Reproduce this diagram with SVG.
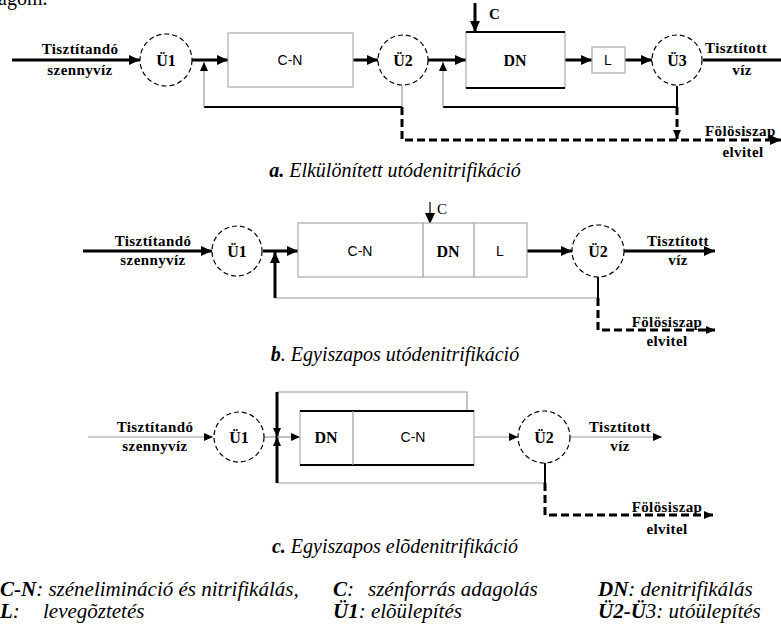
<svg xmlns="http://www.w3.org/2000/svg" width="781" height="632" viewBox="0 0 781 632">
<style>
.bg{fill:#fff}
.thick{stroke:#000;stroke-width:3;fill:none}
.med{stroke:#000;stroke-width:2;fill:none}
.thin{stroke:#999;stroke-width:1.2;fill:none}
.dash{stroke:#000;stroke-width:3;fill:none;stroke-dasharray:8 4}
.circ{stroke:#000;stroke-width:1.2;fill:#fff;stroke-dasharray:5 3}
.box{stroke:#aaa;stroke-width:1.2;fill:#fff}
.lbl{font-family:"Liberation Serif",serif;font-weight:bold;font-size:15px;letter-spacing:0.4px;fill:#000;text-anchor:middle}
.lbs{font-family:"Liberation Serif",serif;font-weight:bold;font-size:15px;letter-spacing:0.4px;fill:#000;text-anchor:start}
.nl{font-family:"Liberation Sans",sans-serif;font-size:14px;fill:#000;text-anchor:middle}
.nlb{font-family:"Liberation Serif",serif;font-weight:bold;font-size:16px;fill:#000;text-anchor:middle}
.cap{font-family:"Liberation Serif",serif;font-style:italic;font-size:20px;fill:#000;text-anchor:middle}
.leg{font-family:"Liberation Serif",serif;font-style:italic;font-size:21px;fill:#000}
.b{font-weight:bold}
</style>
<defs>
<marker id="ah" markerUnits="userSpaceOnUse" markerWidth="11" markerHeight="10" refX="11" refY="5" orient="auto"><path d="M0,0 L11,5 L0,10 z" fill="#000"/></marker>
<marker id="as" markerUnits="userSpaceOnUse" markerWidth="9" markerHeight="8" refX="9" refY="4" orient="auto"><path d="M0,0 L9,4 L0,8 z" fill="#000"/></marker>
</defs>
<rect class="bg" x="0" y="0" width="781" height="632"/>
<text x="-2" y="5" font-family="Liberation Serif,serif" font-size="20">agom.</text>

<g id="connectors">
<!-- a -->
<line class="thick" x1="12" y1="60" x2="140" y2="60" marker-end="url(#ah)"/>
<line class="thick" x1="192" y1="60" x2="228" y2="60" marker-end="url(#ah)"/>
<line class="thin" x1="402" y1="86" x2="402" y2="107"/>
<line class="med" x1="402" y1="107" x2="204" y2="107"/>
<line class="thin" x1="204" y1="107" x2="204" y2="62" marker-end="url(#as)"/>
<line class="thick" x1="353" y1="60" x2="378" y2="60" marker-end="url(#ah)"/>
<line class="thick" x1="428" y1="60" x2="466" y2="60" marker-end="url(#ah)"/>
<line class="thick" x1="475" y1="3" x2="475" y2="32" marker-end="url(#ah)"/>
<line class="thick" x1="553" y1="60" x2="592" y2="60" marker-end="url(#ah)"/>
<line class="thick" x1="625" y1="60" x2="652" y2="60" marker-end="url(#ah)"/>
<line class="thick" x1="703" y1="60" x2="781" y2="60"/>
<line class="med" x1="677" y1="86" x2="677" y2="107"/>
<line class="med" x1="677" y1="107" x2="443" y2="107"/>
<line class="thin" x1="443" y1="107" x2="443" y2="62" marker-end="url(#as)"/>
<polyline class="dash" points="402,107 402,140 781,140" marker-end="url(#ah)"/>
<line class="dash" x1="677" y1="107" x2="677" y2="139" marker-end="url(#as)"/>
<!-- b -->
<line class="thick" x1="83" y1="251" x2="212" y2="251" marker-end="url(#ah)"/>
<line class="thick" x1="263" y1="251" x2="298" y2="251" marker-end="url(#ah)"/>
<line class="thin" x1="598" y1="298" x2="275" y2="298"/>
<line class="thick" x1="275" y1="298" x2="275" y2="252" marker-end="url(#ah)"/>
<line x1="430" y1="202" x2="430" y2="224" stroke="#000" stroke-width="1.2" marker-end="url(#ah)"/>
<line class="thick" x1="527" y1="251" x2="572" y2="251" marker-end="url(#ah)"/>
<line class="thick" x1="624" y1="251" x2="715" y2="251" marker-end="url(#ah)"/>
<line class="med" x1="598" y1="277" x2="598" y2="298"/>
<polyline class="dash" points="598,298 598,330 715,330" marker-end="url(#as)"/>
<!-- c -->
<line class="thin" x1="88" y1="437" x2="213" y2="437" marker-end="url(#as)"/>
<line class="thin" x1="264" y1="437" x2="277" y2="437"/>
<polyline class="thin" points="277,392 467,392 467,411"/>
<line class="thin" x1="277" y1="483" x2="545" y2="483"/>
<line class="thick" x1="277" y1="392" x2="277" y2="437" marker-end="url(#as)"/>
<line class="thick" x1="277" y1="483" x2="277" y2="437" marker-end="url(#as)"/>
<line class="thin" x1="277" y1="437" x2="300" y2="437" marker-end="url(#as)"/>
<line class="thin" x1="474" y1="437" x2="518" y2="437" marker-end="url(#as)"/>
<line class="thin" x1="570" y1="437" x2="662" y2="437" marker-end="url(#as)"/>
<line class="med" x1="545" y1="463" x2="545" y2="483"/>
<polyline class="dash" points="545,483 545,515 713,515" marker-end="url(#as)"/>
</g>

<!-- section a nodes -->
<g id="a-U1"><circle class="circ" cx="166" cy="60" r="26"/><text class="nlb" x="166" y="66">Ü1</text></g>
<g id="a-CN"><rect class="box" x="228" y="33" width="125" height="54"/><text class="nl" x="290" y="65">C-N</text></g>
<g id="a-U2"><circle class="circ" cx="403" cy="60" r="25"/><text class="nlb" x="403" y="66">Ü2</text></g>
<g id="a-DN"><rect class="box" x="466" y="32" width="99" height="56"/><line class="med" x1="466" y1="32" x2="565" y2="32" stroke-width="2.5"/><line class="med" x1="466" y1="88" x2="565" y2="88" stroke-width="2.5"/><text class="nlb" x="515" y="66">DN</text></g>
<g id="a-L"><rect class="box" x="592" y="47" width="33" height="26"/><text class="nl" x="608" y="65">L</text></g>
<g id="a-U3"><circle class="circ" cx="677" cy="60" r="25"/><text class="nlb" x="677" y="66">Ü3</text></g>
<g id="a-texts">
<text class="lbl" x="80" y="54">Tisztítandó</text>
<text class="lbl" x="80" y="75">szennyvíz</text>
<text class="lbs" x="489" y="19">C</text>
<text class="lbs" x="705" y="53">Tisztított</text>
<text class="lbl" x="742" y="75">víz</text>
<text class="lbs" x="705" y="136">Fölösiszap</text>
<text class="lbl" x="743" y="157">elvitel</text>
<text class="cap" x="395" y="177"><tspan class="b">a.</tspan> Elkülönített utódenitrifikáció</text>
</g>

<!-- section b nodes -->
<g id="b-U1"><circle class="circ" cx="237" cy="251" r="25"/><text class="nlb" x="237" y="257">Ü1</text></g>
<g id="b-tank"><rect class="box" x="298" y="223" width="229" height="54"/><line class="thin" x1="423" y1="223" x2="423" y2="277"/><line class="thin" x1="474" y1="223" x2="474" y2="277"/>
<text class="nl" x="360" y="256">C-N</text><text class="nlb" x="448" y="257">DN</text><text class="nl" x="500" y="256">L</text></g>
<g id="b-U2"><circle class="circ" cx="598" cy="251" r="26"/><text class="nlb" x="598" y="257">Ü2</text></g>
<g id="b-texts">
<text class="lbl" x="153" y="246">Tisztítandó</text>
<text class="lbl" x="153" y="265">szennyvíz</text>
<text x="437" y="214" font-family="Liberation Serif,serif" font-size="15">C</text>
<text class="lbl" x="678" y="246">Tisztított</text>
<text class="lbl" x="678" y="265">víz</text>
<text class="lbl" x="667" y="327">Fölösiszap</text>
<text class="lbl" x="667" y="346">elvitel</text>
<text class="cap" x="395" y="361"><tspan class="b">b</tspan>. Egyiszapos utódenitrifikáció</text>
</g>

<!-- section c nodes -->
<g id="c-U1"><circle class="circ" cx="239" cy="437" r="25"/><text class="nlb" x="239" y="443">Ü1</text></g>
<g id="c-tank"><rect class="box" x="300" y="411" width="174" height="54"/><line class="med" x1="300" y1="411" x2="474" y2="411" stroke-width="2.5"/><line class="med" x1="300" y1="465" x2="474" y2="465" stroke-width="2.5"/><line class="thin" x1="353" y1="411" x2="353" y2="465"/>
<text class="nlb" x="326" y="443">DN</text><text class="nl" x="413" y="442">C-N</text></g>
<g id="c-U2"><circle class="circ" cx="544" cy="437" r="26"/><text class="nlb" x="544" y="443">Ü2</text></g>
<g id="c-texts">
<text class="lbl" x="155" y="432">Tisztítandó</text>
<text class="lbl" x="155" y="451">szennyvíz</text>
<text class="lbl" x="620" y="432">Tisztított</text>
<text class="lbl" x="620" y="451">víz</text>
<text class="lbl" x="667" y="512">Fölösiszap</text>
<text class="lbl" x="667" y="534">elvitel</text>
<text class="cap" x="395" y="553"><tspan class="b">c.</tspan> Egyiszapos elõdenitrifikáció</text>
</g>

<g id="legend">
<text class="leg" x="0" y="596"><tspan class="b">C-N</tspan>: szénelimináció és nitrifikálás,</text>
<text class="leg" x="333" y="596"><tspan class="b">C</tspan>:</text>
<text class="leg" x="368" y="596">szénforrás adagolás</text>
<text class="leg" x="598" y="596"><tspan class="b">DN</tspan>: denitrifikálás</text>
<text class="leg" x="0" y="618"><tspan class="b">L</tspan>:</text>
<text class="leg" x="43" y="618">levegõztetés</text>
<text class="leg" x="333" y="618"><tspan class="b">Ü1</tspan>: elõülepítés</text>
<text class="leg" x="598" y="618"><tspan class="b">Ü2-Ü</tspan>3: utóülepítés</text>
</g>
</svg>
